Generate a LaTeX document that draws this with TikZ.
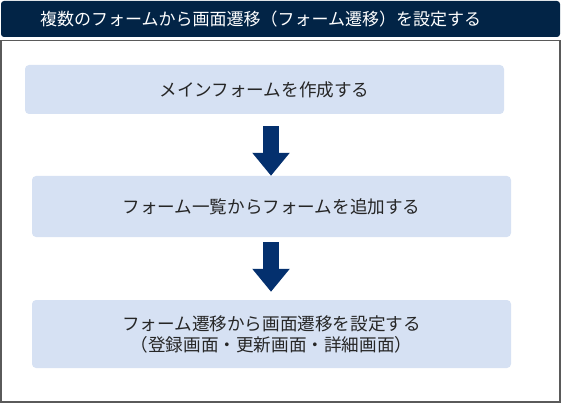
\documentclass[tikz,border=0pt]{standalone}
\usepackage{xcolor}
\usepackage{fontspec}
\setmainfont{Noto Sans CJK JP}
\usepackage{tikz}
\usetikzlibrary{arrows.meta,positioning,calc}

\definecolor{headnavy}{HTML}{022446}
\definecolor{stepfill}{HTML}{D6E1F3}
\definecolor{arrownavy}{HTML}{04306E}
\definecolor{framegray}{HTML}{5A5A5A}
\definecolor{textgray}{HTML}{262626}

\begin{document}
\begin{tikzpicture}[
  x=1pt, y=-1pt,
  header/.style={rectangle, rounded corners=3pt, fill=headnavy, minimum width=559pt, minimum height=36pt},
  headtext/.style={text=white, font=\fontsize{17}{20}\selectfont},
  stage/.style={rectangle, rounded corners=4pt, fill=stepfill, text=textgray, align=center, minimum width=479pt, font=\fontsize{17.6}{21}\selectfont},
  flow/.style={arrownavy, line width=16pt, -{Triangle[width=36pt, length=23pt]}}
]
\useasboundingbox (0,0) rectangle (561,403);
\node[header] (title) at (280.5,19) {};
\node[headtext] (titletext) at (260.5,19) {複数のフォームから画面遷移（フォーム遷移）を設定する};
\draw[framegray, line width=1.2pt] (1,40.5) rectangle (560,402);
\node[stage, minimum height=49pt] (make) at (264.5,89.5) {メインフォームを作成する};
\node[stage, minimum height=61pt] (add) at (271.5,206.5) {フォーム一覧からフォームを追加する};
\node[stage, minimum height=68pt] (trans) at (271.5,334) {フォーム遷移から画面遷移を設定する\\（登録画面・更新画面・詳細画面）};
\draw[flow] ($(make.south -| add.north)+(-0.5pt,-12pt)$) -- ($(add.north)+(-0.5pt,0)$);
\draw[flow] ($(add.south)+(-0.5pt,-5pt)$) -- ($(trans.north)+(-0.5pt,8pt)$);
\end{tikzpicture}
\end{document}
